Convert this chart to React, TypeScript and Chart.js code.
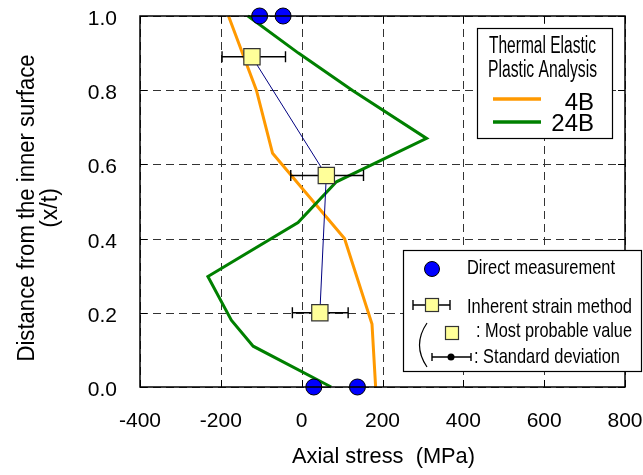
import React, { useEffect, useRef } from "react";
import { Chart, registerables } from "chart.js";

Chart.register(...registerables);

const FONT = '"Liberation Sans", Arial, Helvetica, sans-serif';

// Axis ticks
const xTicks = [-400, -200, 0, 200, 400, 600, 800];
const yTicks = [0, 0.2, 0.4, 0.6, 0.8, 1.0];

// Thermal elastic plastic analysis, 4B
const depth4B = [1.0, 0.8, 0.63, 0.4, 0.17, 0.0];
const stress4B = [-181, -112, -72, 106, 174, 183];

// Thermal elastic plastic analysis, 24B
const depth24B = [1.0, 0.9, 0.8, 0.67, 0.553, 0.443, 0.298, 0.18, 0.11, 0.0];
const stress24B = [-133, -8, 125, 309, 86, -9, -232, -174, -120, 73];

// Direct measurement
const directDepth = [1.0, 1.0, 0.0, 0.0];
const directStress = [-104, -46, 30, 138];

// Inherent strain method (most probable value and standard deviation range)
const inherentDepth = [0.89, 0.57, 0.2];
const inherentStress = [-123, 61, 45];
const inherentLow = [-197, -27, -23];
const inherentHigh = [-40, 153, 115];

const SQUARE_INDEX = 1;

function fitText(
  ctx: CanvasRenderingContext2D,
  text: string,
  x: number,
  y: number,
  size: number,
  width: number | null,
  align: CanvasTextAlign
) {
  ctx.save();
  ctx.font = `${size}px ${FONT}`;
  ctx.fillStyle = "#000";
  ctx.textBaseline = "alphabetic";
  const w = ctx.measureText(text).width;
  const s = width ? width / w : 1;
  ctx.translate(x, y);
  ctx.scale(s, 1);
  ctx.textAlign = align;
  ctx.fillText(text, 0, 0);
  ctx.restore();
}

function drawSquare(ctx: CanvasRenderingContext2D, cx: number, cy: number, side: number) {
  ctx.save();
  ctx.fillStyle = "#FFFF99";
  ctx.strokeStyle = "#333";
  ctx.lineWidth = 1.2;
  ctx.fillRect(cx - side / 2, cy - side / 2, side, side);
  ctx.strokeRect(cx - side / 2, cy - side / 2, side, side);
  ctx.restore();
}

function drawBar(ctx: CanvasRenderingContext2D, x1: number, x2: number, y: number, cap: number) {
  ctx.save();
  ctx.strokeStyle = "#000";
  ctx.lineWidth = 1.4;
  ctx.beginPath();
  ctx.moveTo(x1, y);
  ctx.lineTo(x2, y);
  ctx.moveTo(x1, y - cap);
  ctx.lineTo(x1, y + cap);
  ctx.moveTo(x2, y - cap);
  ctx.lineTo(x2, y + cap);
  ctx.stroke();
  ctx.restore();
}

export default function App() {
  const ref = useRef<HTMLCanvasElement>(null);

  useEffect(() => {
    const canvas = ref.current!;

    const plugin = {
      id: "customDecor",
      beforeDatasetsDraw(chart: any) {
        const { ctx, chartArea: a, scales } = chart;
        ctx.save();
        ctx.strokeStyle = "#333";
        ctx.lineWidth = 1;
        ctx.setLineDash([8, 5]);
        ctx.beginPath();
        xTicks.forEach((v) => {
          const x = Math.round(scales.x.getPixelForValue(v)) + 0.5;
          ctx.moveTo(x, a.top);
          ctx.lineTo(x, a.bottom);
        });
        yTicks.forEach((v) => {
          const y = Math.round(scales.y.getPixelForValue(v)) + 0.5;
          ctx.moveTo(a.left, y);
          ctx.lineTo(a.right, y);
        });
        ctx.stroke();
        ctx.restore();
      },
      beforeDatasetDraw(chart: any, args: any) {
        if (args.index !== SQUARE_INDEX) return;
        const { ctx, scales } = chart;
        inherentDepth.forEach((d, i) => {
          const y = scales.y.getPixelForValue(d);
          drawBar(
            ctx,
            scales.x.getPixelForValue(inherentLow[i]),
            scales.x.getPixelForValue(inherentHigh[i]),
            y,
            5.5
          );
        });
      },
      afterDatasetsDraw(chart: any) {
        const { ctx, chartArea: a, scales } = chart;
        ctx.save();
        // frame
        ctx.strokeStyle = "#000";
        ctx.lineWidth = 1.5;
        ctx.setLineDash([]);
        ctx.strokeRect(a.left, a.top, a.right - a.left, a.bottom - a.top);
        // inner tick marks
        ctx.lineWidth = 1;
        ctx.beginPath();
        xTicks.forEach((v) => {
          const x = Math.round(scales.x.getPixelForValue(v)) + 0.5;
          ctx.moveTo(x, a.bottom);
          ctx.lineTo(x, a.bottom - 7);
          ctx.moveTo(x, a.top);
          ctx.lineTo(x, a.top + 7);
        });
        yTicks.forEach((v) => {
          const y = Math.round(scales.y.getPixelForValue(v)) + 0.5;
          ctx.moveTo(a.left, y);
          ctx.lineTo(a.left + 7, y);
          ctx.moveTo(a.right, y);
          ctx.lineTo(a.right - 7, y);
        });
        ctx.stroke();
        ctx.restore();

        // tick labels
        xTicks.forEach((v) => {
          fitText(ctx, String(v), scales.x.getPixelForValue(v), a.bottom + 40, 21, null, "center");
        });
        yTicks.forEach((v) => {
          fitText(ctx, v.toFixed(1), a.left - 23, scales.y.getPixelForValue(v) + 9, 21, null, "right");
        });

        // axis titles
        fitText(ctx, "Axial stress  (MPa)", 292, 463, 22, 183, "left");
        ctx.save();
        ctx.translate(34, 208);
        ctx.rotate(-Math.PI / 2);
        fitText(ctx, "Distance from the inner surface", 0, 0, 23, 307, "center");
        ctx.restore();
        ctx.save();
        ctx.translate(57, 208);
        ctx.rotate(-Math.PI / 2);
        fitText(ctx, "(x/t)", 0, 0, 23, null, "center");
        ctx.restore();

        // Legend 1: thermal elastic plastic analysis
        ctx.save();
        ctx.fillStyle = "#fff";
        ctx.strokeStyle = "#000";
        ctx.lineWidth = 1.2;
        ctx.fillRect(477, 28, 135, 110);
        ctx.strokeRect(477.5, 28.5, 135, 110);
        ctx.lineWidth = 3.5;
        ctx.strokeStyle = "#FF9900";
        ctx.beginPath();
        ctx.moveTo(493, 99);
        ctx.lineTo(541, 99);
        ctx.stroke();
        ctx.strokeStyle = "#008000";
        ctx.beginPath();
        ctx.moveTo(493, 122);
        ctx.lineTo(541, 122);
        ctx.stroke();
        ctx.restore();
        fitText(ctx, "Thermal Elastic", 542.5, 53, 23, 107, "center");
        fitText(ctx, "Plastic Analysis", 542.5, 77, 23, 109, "center");
        fitText(ctx, "4B", 594, 110, 24, null, "right");
        fitText(ctx, "24B", 594, 131, 24, null, "right");

        // Legend 2: measurements
        ctx.save();
        ctx.fillStyle = "#fff";
        ctx.strokeStyle = "#000";
        ctx.lineWidth = 1.2;
        ctx.fillRect(403, 250, 238, 121);
        ctx.strokeRect(403.5, 250.5, 238, 121);
        ctx.fillStyle = "#0000FF";
        ctx.lineWidth = 1;
        ctx.beginPath();
        ctx.arc(432, 269, 7.5, 0, Math.PI * 2);
        ctx.fill();
        ctx.stroke();
        ctx.restore();
        fitText(ctx, "Direct measurement", 467, 274, 21, 148, "left");

        drawBar(ctx, 413, 450, 305, 5);
        drawSquare(ctx, 432, 305, 13);
        fitText(ctx, "Inherent strain method", 467, 313, 21, 165, "left");

        ctx.save();
        ctx.strokeStyle = "#000";
        ctx.lineWidth = 1.2;
        ctx.beginPath();
        ctx.moveTo(427, 323);
        ctx.quadraticCurveTo(412, 345, 427, 367);
        ctx.stroke();
        ctx.restore();

        drawSquare(ctx, 452, 333, 13);
        fitText(ctx, ": Most probable value", 476, 337, 21, 156, "left");

        drawBar(ctx, 432, 471, 357, 4);
        ctx.save();
        ctx.fillStyle = "#000";
        ctx.beginPath();
        ctx.arc(451, 357, 3.5, 0, Math.PI * 2);
        ctx.fill();
        ctx.restore();
        fitText(ctx, ": Standard deviation", 474, 363, 21, 146, "left");
      },
    };

    const chart = new Chart(canvas, {
      type: "scatter",
      data: {
        datasets: [
          {
            label: "Direct measurement",
            data: directStress.map((x, i) => ({ x, y: directDepth[i] })),
            showLine: false,
            pointRadius: 8,
            pointBackgroundColor: "#0000FF",
            pointBorderColor: "#000",
            pointBorderWidth: 1,
            order: 1,
            clip: false,
          },
          {
            label: "Inherent strain method",
            data: inherentStress.map((x, i) => ({ x, y: inherentDepth[i] })),
            showLine: false,
            pointStyle: "rect",
            pointRadius: 11.5,
            pointBackgroundColor: "#FFFF99",
            pointBorderColor: "#333",
            pointBorderWidth: 1.2,
            order: 2,
            clip: false,
          },
          {
            label: "Inherent strain line",
            data: inherentStress.map((x, i) => ({ x, y: inherentDepth[i] })),
            showLine: true,
            borderColor: "#000080",
            borderWidth: 1,
            pointRadius: 0,
            order: 3,
            clip: false,
          },
          {
            label: "24B",
            data: stress24B.map((x, i) => ({ x, y: depth24B[i] })),
            showLine: true,
            borderColor: "#008000",
            borderWidth: 3,
            pointRadius: 0,
            order: 4,
            clip: false,
          },
          {
            label: "4B",
            data: stress4B.map((x, i) => ({ x, y: depth4B[i] })),
            showLine: true,
            borderColor: "#FF9900",
            borderWidth: 3,
            pointRadius: 0,
            order: 5,
            clip: false,
          },
        ],
      },
      options: {
        responsive: false,
        devicePixelRatio: 1,
        animation: false,
        events: [],
        layout: { padding: { left: 140, right: 18, top: 16, bottom: 88 } },
        plugins: { legend: { display: false }, tooltip: { enabled: false } },
        scales: {
          x: { type: "linear", min: -400, max: 800, display: false },
          y: { type: "linear", min: 0, max: 1, display: false },
        },
      },
      plugins: [plugin],
    } as any);

    return () => chart.destroy();
  }, []);

  return (
    <div style={{ position: "fixed", left: 0, top: 0, width: 643, height: 475, background: "#fff" }}>
      <canvas ref={ref} width={643} height={475} style={{ display: "block", width: 643, height: 475 }} />
    </div>
  );
}
